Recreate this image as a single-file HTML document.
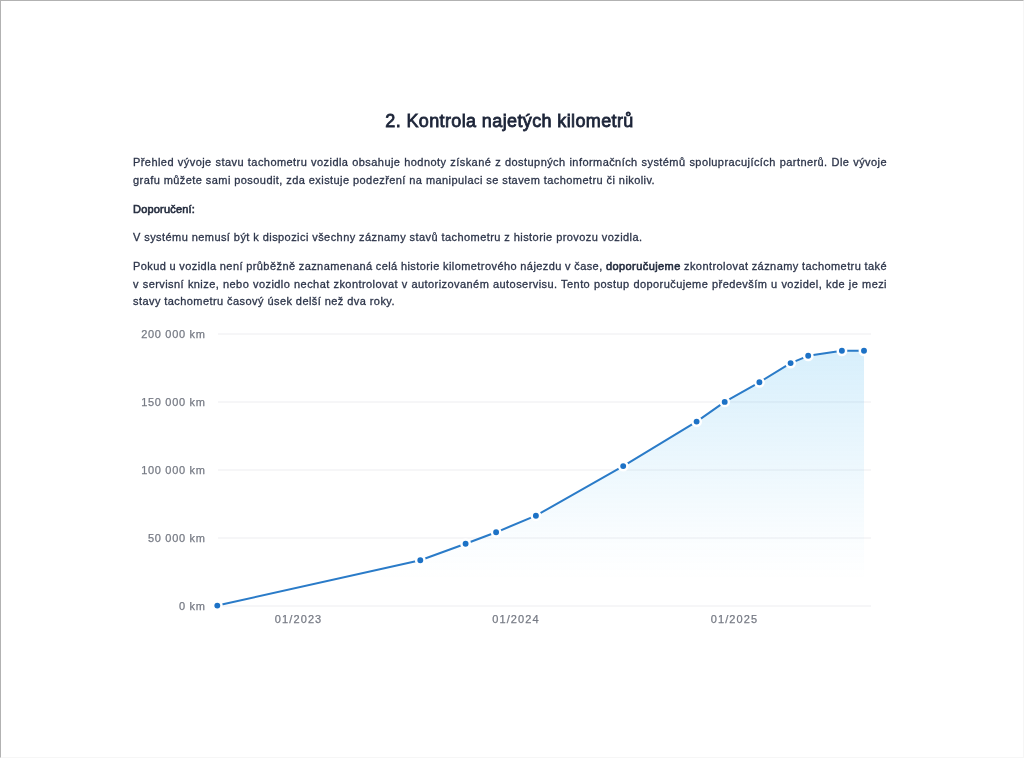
<!DOCTYPE html>
<html>
<head>
<meta charset="utf-8">
<style>
html,body{margin:0;padding:0;}
body{width:1024px;height:758px;position:relative;overflow:hidden;background:#fff;font-family:"Liberation Sans",sans-serif;}
.frame{position:absolute;left:0;top:0;width:1024px;height:758px;box-sizing:border-box;border-top:1px solid #b2b2b2;border-left:1px solid #b2b2b2;border-right:1px solid #f6f6f6;border-bottom:1px solid #f6f6f6;}
.t{position:absolute;left:133px;width:754px;white-space:nowrap;font-size:11px;line-height:18px;height:18px;color:#2d354a;letter-spacing:0.43px;-webkit-text-stroke:0.3px #2d354a;}
.j{text-align:justify;text-align-last:justify;white-space:normal;word-spacing:-1px;}
.t b{font-weight:normal;color:#252d3f;-webkit-text-stroke:0.6px #252d3f;}
h1{position:absolute;left:132px;width:755px;top:0;margin:0;text-align:center;font-size:18px;line-height:24px;font-weight:normal;color:#1c2438;letter-spacing:0.38px;-webkit-text-stroke:0.8px #1c2438;}
.ax{position:absolute;font-size:11px;line-height:14px;color:#767a84;white-space:nowrap;letter-spacing:0.6px;-webkit-text-stroke:0.25px #767a84;}
.yl{right:818.4px;text-align:right;letter-spacing:0.7px;}
.xl{letter-spacing:1.1px;text-align:center;width:80px;}
svg{position:absolute;left:0;top:0;}
#wrap{position:absolute;left:0;top:0;width:1024px;height:758px;filter:blur(0.6px);}
</style>
</head>
<body>
<div class="frame"></div>
<div id="wrap">
<h1 style="top:108.6px">2. Kontrola najetých kilometrů</h1>

<div class="t j" style="top:153px">Přehled vývoje stavu tachometru vozidla obsahuje hodnoty získané z dostupných informačních systémů spolupracujících partnerů. Dle vývoje</div>
<div class="t" style="top:171px">grafu můžete sami posoudit, zda existuje podezření na manipulaci se stavem tachometru či nikoliv.</div>
<div class="t" style="top:200px"><b style="letter-spacing:0.2px">Doporučení:</b></div>
<div class="t" style="top:228px">V systému nemusí být k dispozici všechny záznamy stavů tachometru z historie provozu vozidla.</div>
<div class="t j" style="top:257px">Pokud u vozidla není průběžně zaznamenaná celá historie kilometrového nájezdu v čase, <b>doporučujeme</b> zkontrolovat záznamy tachometru také</div>
<div class="t j" style="top:275px">v servisní knize, nebo vozidlo nechat zkontrolovat v autorizovaném autoservisu. Tento postup doporučujeme především u vozidel, kde je mezi</div>
<div class="t" style="top:292px">stavy tachometru časový úsek delší než dva roky.</div>

<svg width="1024" height="758" viewBox="0 0 1024 758">
<defs>
<linearGradient id="g" x1="0" y1="350" x2="0" y2="606" gradientUnits="userSpaceOnUse">
<stop offset="0" stop-color="#22a6ec" stop-opacity="0.18"/>
<stop offset="0.47" stop-color="#22a6ec" stop-opacity="0.08"/>
<stop offset="0.73" stop-color="#22a6ec" stop-opacity="0.025"/>
<stop offset="0.9" stop-color="#22a6ec" stop-opacity="0"/>
</linearGradient>
</defs>
<g stroke="#ededf0" stroke-width="1">
<line x1="218" y1="334" x2="871" y2="334"/>
<line x1="218" y1="402" x2="871" y2="402"/>
<line x1="218" y1="470" x2="871" y2="470"/>
<line x1="218" y1="538" x2="871" y2="538"/>
<line x1="218" y1="606" x2="871" y2="606"/>
</g>
<path fill="url(#g)" d="M217.3 605.6 L420.3 560.2 L465.6 543.7 L496.1 532.3 L535.9 515.7 L623.2 466.1 L696.6 421.6 L724.7 401.9 L759.4 382.3 L790.6 363.1 L808.2 355.8 L841.9 350.8 L864 350.8 L864 606 L217.3 606 Z"/>
<polyline fill="none" stroke="#2a7bc8" stroke-width="2" stroke-linejoin="round" points="217.3,605.6 420.3,560.2 465.6,543.7 496.1,532.3 535.9,515.7 623.2,466.1 696.6,421.6 724.7,401.9 759.4,382.3 790.6,363.1 808.2,355.8 841.9,350.8 864,350.8"/>
<g fill="#1d72c6" stroke="#fff" stroke-width="2.5">
<circle cx="217.3" cy="605.6" r="4.2"/>
<circle cx="420.3" cy="560.2" r="4.2"/>
<circle cx="465.6" cy="543.7" r="4.2"/>
<circle cx="496.1" cy="532.3" r="4.2"/>
<circle cx="535.9" cy="515.7" r="4.2"/>
<circle cx="623.2" cy="466.1" r="4.2"/>
<circle cx="696.6" cy="421.6" r="4.2"/>
<circle cx="724.7" cy="401.9" r="4.2"/>
<circle cx="759.4" cy="382.3" r="4.2"/>
<circle cx="790.6" cy="363.1" r="4.2"/>
<circle cx="808.2" cy="355.8" r="4.2"/>
<circle cx="841.9" cy="350.8" r="4.2"/>
<circle cx="864" cy="350.8" r="4.2"/>
</g>
</svg>

<div class="ax yl" style="top:327px">200 000 km</div>
<div class="ax yl" style="top:395px">150 000 km</div>
<div class="ax yl" style="top:463px">100 000 km</div>
<div class="ax yl" style="top:531px">50 000 km</div>
<div class="ax yl" style="top:599px">0 km</div>

<div class="ax xl" style="top:612.2px;left:258.6px">01/2023</div>
<div class="ax xl" style="top:612.2px;left:476px">01/2024</div>
<div class="ax xl" style="top:612.2px;left:694.5px">01/2025</div>
</div>
</body>
</html>
